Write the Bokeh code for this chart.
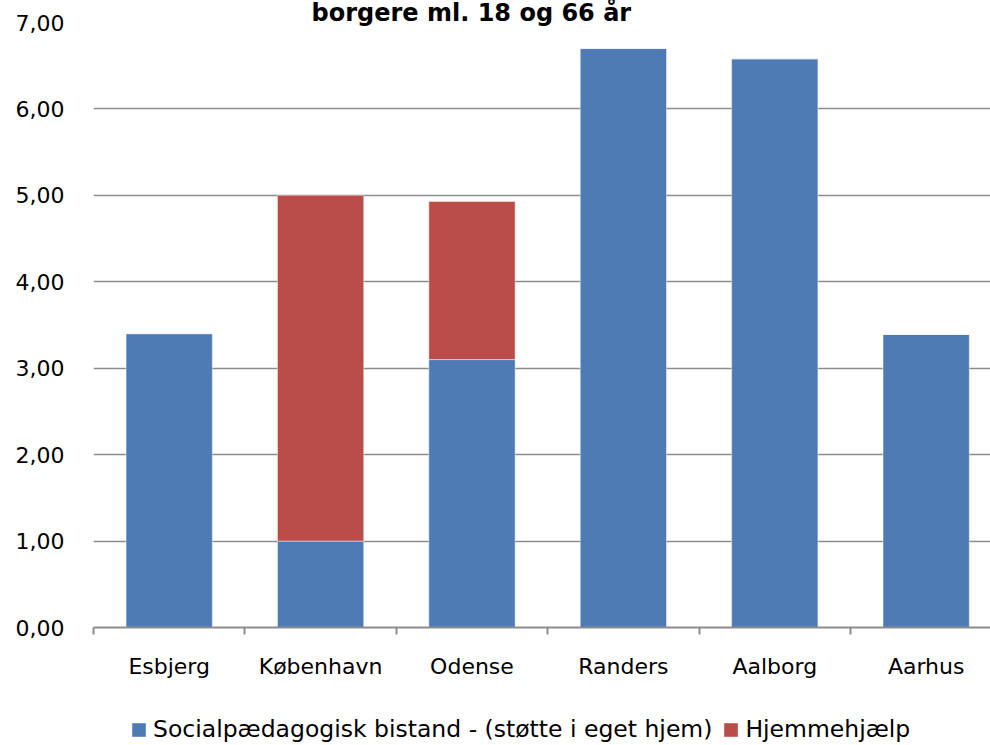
from bokeh.plotting import figure
from bokeh.layouts import column
from bokeh.models import (ColumnDataSource, Range1d, FixedTicker, Legend,
                          LegendItem, Title)
from bokeh.embed import file_html
from bokeh.resources import INLINE

# ---- data ----
cities = ["Esbjerg", "København", "Odense", "Randers", "Aalborg", "Aarhus"]
social = [3.40, 1.00, 3.10, 6.70, 6.58, 3.39]
hjemme = [0.00, 4.00, 1.83, 0.00, 0.00, 0.00]
series_names = ["Socialpædagogisk bistand - (støtte i eget hjem)", "Hjemmehjælp"]
y_ticks = [0, 1, 2, 3, 4, 5, 6, 7]
y_tick_labels = ["0,00", "1,00", "2,00", "3,00", "4,00", "5,00", "6,00", "7,00"]
title_text = "borgere ml. 18 og 66 år"

BLUE = "#4F7BB4"
RED = "#BA4C49"
GRID = "#8C8C8C"
FONT = "DejaVu Sans"
COLORS = [BLUE, RED]

xpos = [i + 0.5 for i in range(len(cities))]
source = ColumnDataSource(dict(x=xpos, social=social, hjemme=hjemme))

p = figure(width=990, height=690, output_backend="svg", toolbar_location=None,
           x_range=Range1d(0, 5.925), y_range=Range1d(0, 7),
           min_border_left=93, min_border_right=0, min_border_top=0,
           min_border_bottom=63)
p.outline_line_color = None
p.background_fill_color = "white"
p.border_fill_color = "white"

title = Title(text=title_text, align="left", offset=218, standoff=-8,
              text_font=FONT, text_font_style="bold", text_font_size="24px",
              text_color="black")
p.add_layout(title, "above")

renderers = p.vbar_stack(["social", "hjemme"], x="x", width=0.57, source=source,
                         color=COLORS, line_color="white", line_alpha=0.45,
                         line_width=1)

# y axis
p.yaxis.ticker = FixedTicker(ticks=y_ticks)
p.yaxis.major_label_overrides = {t: l for t, l in zip(y_ticks, y_tick_labels)}
p.yaxis.axis_line_color = None
p.yaxis.major_tick_line_color = None
p.yaxis.minor_tick_line_color = None
p.yaxis.major_tick_out = 0
p.yaxis.minor_tick_out = 0
p.yaxis.major_label_standoff = 29
p.yaxis.major_label_text_font = FONT
p.yaxis.major_label_text_font_size = "22px"
p.yaxis.major_label_text_color = "black"

# x axis
p.xaxis.ticker = FixedTicker(ticks=xpos, minor_ticks=list(range(len(cities) + 1)))
p.xaxis.major_label_overrides = {x: c for x, c in zip(xpos, cities)}
p.xaxis.axis_line_color = GRID
p.xaxis.axis_line_width = 2
p.xaxis.major_tick_line_color = None
p.xaxis.major_tick_out = 0
p.xaxis.minor_tick_line_color = GRID
p.xaxis.minor_tick_line_width = 2
p.xaxis.minor_tick_out = 7
p.xaxis.minor_tick_in = 0
p.xaxis.major_label_standoff = 19
p.xaxis.major_label_text_font = FONT
p.xaxis.major_label_text_font_size = "22px"
p.xaxis.major_label_text_color = "black"

p.xgrid.grid_line_color = None
p.ygrid.ticker = FixedTicker(ticks=y_ticks[1:])
p.ygrid.grid_line_color = GRID
p.ygrid.grid_line_width = 1.5

# legend strip (separate small figure below the chart; frames are aligned)
q = figure(width=990, height=55, output_backend="svg", toolbar_location=None,
           x_axis_type=None, y_axis_type=None,
           x_range=Range1d(0, 1), y_range=Range1d(0, 1),
           min_border_left=93, min_border_right=0, min_border_top=0,
           min_border_bottom=0)
q.outline_line_color = None
q.xgrid.grid_line_color = None
q.ygrid.grid_line_color = None
# zero-height swatch renderers that only feed the legend
dummy = [q.vbar(x=[0.5], top=[0], bottom=[0], width=0.0, fill_color=c,
                line_color=None) for c in COLORS]
legend = Legend(items=[LegendItem(label=n, renderers=[r])
                       for n, r in zip(series_names, dummy)],
                orientation="horizontal", location=(37, 2),
                glyph_width=17, glyph_height=17, label_standoff=6, spacing=10,
                padding=0, margin=0, border_line_color=None,
                background_fill_alpha=0, label_text_font=FONT,
                label_text_font_size="23.5px", label_height=17,
                label_text_color="black")
q.add_layout(legend, "center")

layout = column(p, q, spacing=0)
open("out.html", "w").write(file_html(layout, INLINE))
